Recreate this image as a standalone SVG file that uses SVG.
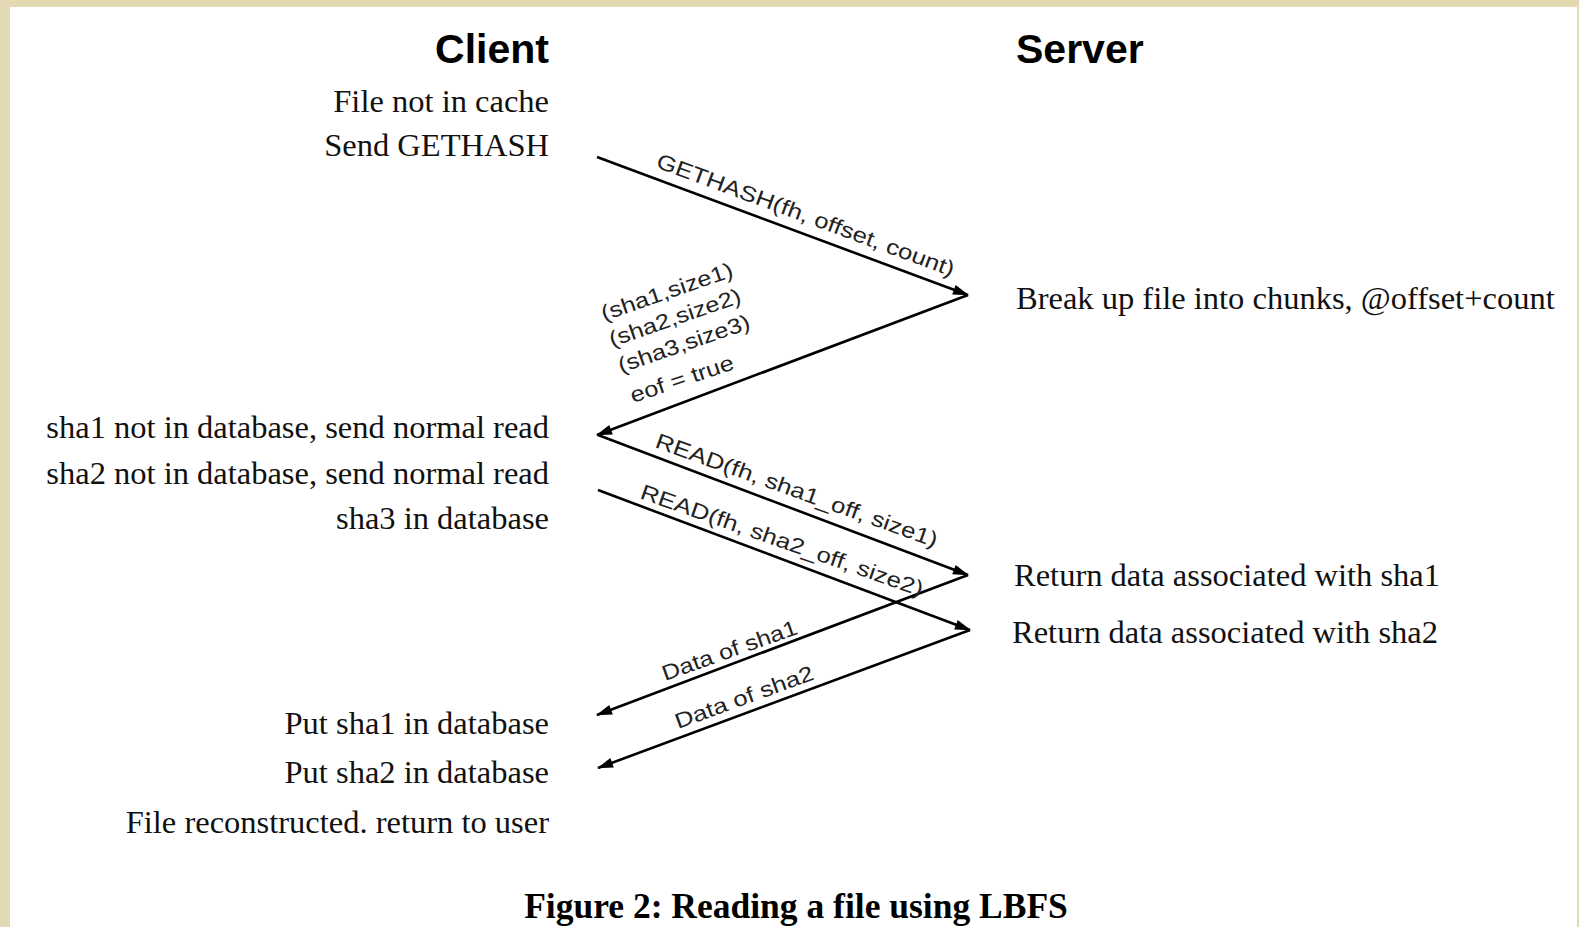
<svg xmlns="http://www.w3.org/2000/svg" width="1579" height="927" viewBox="0 0 1579 927">
<style>
.bg{fill:#E3DAB3}
.hd{font-family:"Liberation Sans",Arial,sans-serif;font-weight:bold;font-size:41px;fill:#000}
.tx{font-family:"Liberation Serif","Times New Roman",serif;font-size:32.5px;fill:#111}
.cap{font-family:"Liberation Serif","Times New Roman",serif;font-weight:bold;font-size:35.5px;fill:#000}
.lb{font-family:"Liberation Sans",Arial,sans-serif;font-size:21.5px;fill:#222}
.ln{stroke:#000;stroke-width:2.6;fill:none;marker-end:url(#ah)}
</style>
<defs>
<marker id="ah" markerUnits="userSpaceOnUse" viewBox="-17 -7 19 14" refX="0" refY="0" markerWidth="19" markerHeight="14" orient="auto">
<path d="M1,0 L-15,-5 L-15,5 Z" fill="#000"/>
</marker>
</defs>
<rect class="bg" x="0" y="0" width="1579" height="927"/>
<rect x="10" y="7" width="1567" height="920" fill="#fff"/>

<g id="client-header"><text class="hd" x="549" y="63" text-anchor="end">Client</text></g>
<g id="server-header"><text class="hd" x="1016" y="63">Server</text></g>

<g id="c1"><text class="tx" x="549" y="112" text-anchor="end">File not in cache</text></g>
<g id="c2"><text class="tx" x="549" y="156" text-anchor="end">Send GETHASH</text></g>
<g id="c3"><text class="tx" x="549" y="438" text-anchor="end">sha1 not in database, send normal read</text></g>
<g id="c4"><text class="tx" x="549" y="484" text-anchor="end">sha2 not in database, send normal read</text></g>
<g id="c5"><text class="tx" x="549" y="529" text-anchor="end">sha3 in database</text></g>
<g id="c6"><text class="tx" x="549" y="734" text-anchor="end">Put sha1 in database</text></g>
<g id="c7"><text class="tx" x="549" y="783" text-anchor="end">Put sha2 in database</text></g>
<g id="c8"><text class="tx" x="549" y="833" text-anchor="end">File reconstructed. return to user</text></g>

<g id="s1"><text class="tx" x="1016" y="309">Break up file into chunks, @offset+count</text></g>
<g id="s2"><text class="tx" x="1014" y="586">Return data associated with sha1</text></g>
<g id="s3"><text class="tx" x="1012" y="643">Return data associated with sha2</text></g>

<g id="connectors">
<line class="ln" x1="597" y1="157" x2="968" y2="295"/>
<line class="ln" x1="968" y1="295" x2="597" y2="435"/>
<line class="ln" x1="598" y1="435" x2="968" y2="575"/>
<line class="ln" x1="598" y1="490" x2="970" y2="630"/>
<line class="ln" x1="968" y1="575" x2="597" y2="715"/>
<line class="ln" x1="970" y1="630" x2="598" y2="768"/>
</g>

<g id="labels">
<text class="lb" transform="translate(655,167) rotate(20.3)" textLength="316" lengthAdjust="spacingAndGlyphs">GETHASH(fh, offset, count)</text>
<text class="lb" transform="translate(604,321) rotate(-19)" textLength="138" lengthAdjust="spacingAndGlyphs">(sha1,size1)</text>
<text class="lb" transform="translate(612,347) rotate(-19)" textLength="138" lengthAdjust="spacingAndGlyphs">(sha2,size2)</text>
<text class="lb" transform="translate(621,373) rotate(-19)" textLength="138" lengthAdjust="spacingAndGlyphs">(sha3,size3)</text>
<text class="lb" transform="translate(633,403) rotate(-18.5)" textLength="108" lengthAdjust="spacingAndGlyphs">eof = true</text>
<text class="lb" transform="translate(654,447) rotate(19.7)" textLength="298" lengthAdjust="spacingAndGlyphs">READ(fh, sha1_off, size1)</text>
<text class="lb" transform="translate(639,498) rotate(19.3)" textLength="298" lengthAdjust="spacingAndGlyphs">READ(fh, sha2_off, size2)</text>
<text class="lb" transform="translate(665,681) rotate(-19.5)" textLength="142" lengthAdjust="spacingAndGlyphs">Data of sha1</text>
<text class="lb" transform="translate(678,729) rotate(-20)" textLength="146" lengthAdjust="spacingAndGlyphs">Data of sha2</text>
</g>

<g id="caption"><text class="cap" x="796" y="918" text-anchor="middle">Figure 2: Reading a file using LBFS</text></g>
</svg>
